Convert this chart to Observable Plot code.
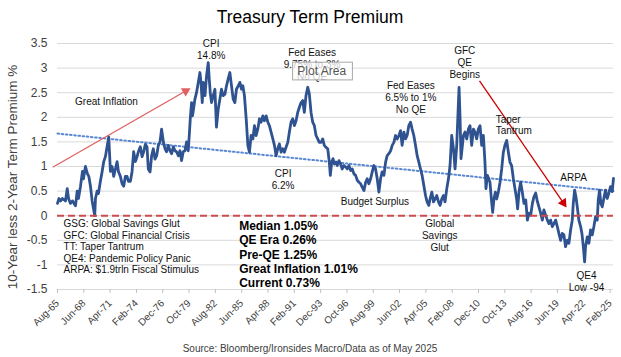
<!DOCTYPE html>
<html><head><meta charset="utf-8">
<script src="https://cdn.jsdelivr.net/npm/d3@7"></script>
<script src="https://cdn.jsdelivr.net/npm/@observablehq/plot@0.6"></script>
<style>body{margin:0;background:#fff;} #chart svg{display:block;}</style>
</head><body><div id="chart"></div>
<script>
// ---- data ----
const years = [
1965.58,1965.74,1965.91,1966.12,1966.44,1966.63,1966.77,1966.98,1967.20,1967.52,1967.70,1967.84,1968.06,1968.27,1968.38,1968.59,1968.81,1968.95,1969.13,1969.31,1969.45,1969.59,1969.67,1969.85,1969.99,
1970.20,1970.39,1970.56,1970.74,1970.92,1971.10,1971.28,1971.46,1971.63,1971.82,1972.00,1972.14,1972.35,1972.54,1972.71,1972.89,1973.07,1973.21,1973.43,1973.61,1973.78,1973.97,1974.15,1974.29,1974.50,1974.69,1974.86,1975.04,1975.22,
1975.36,1975.55,1975.72,1975.90,1976.08,1976.26,1976.44,1976.62,1976.79,1976.98,1977.16,1977.33,1977.51,1977.70,1977.87,1978.05,1978.23,1978.40,1978.59,1978.77,1978.94,1979.12,1979.31,1979.48,1979.66,1979.77,1979.88,
1980.02,1980.12,1980.23,1980.38,1980.55,1980.74,1980.92,1981.03,1981.17,1981.27,1981.46,1981.63,1981.81,1981.92,1982.03,1982.17,1982.35,1982.53,1982.70,1982.89,1983.07,1983.24,1983.42,1983.61,1983.78,1983.96,1984.14,1984.32,1984.50,1984.68,1984.85,1985.04,1985.22,1985.39,
1985.54,1985.71,1985.90,1986.08,1986.25,1986.43,1986.62,1986.79,1986.97,1987.15,1987.33,1987.51,1987.69,1987.86,1988.05,1988.23,1988.40,1988.58,1988.77,1988.94,1989.12,1989.30,1989.47,1989.66,1989.84,
1990.01,1990.19,1990.38,1990.55,1990.73,1990.91,1991.09,1991.27,1991.45,1991.62,1991.81,1991.99,1992.16,1992.34,1992.53,1992.70,1992.88,1993.06,1993.24,1993.42,1993.60,1993.77,1993.96,1994.14,1994.31,1994.49,1994.68,1994.85,1994.96,1995.11,1995.25,1995.39,1995.57,
1995.71,1995.89,1996.07,1996.24,1996.43,1996.61,1996.78,1996.96,1997.15,1997.32,1997.50,1997.68,1997.86,1998.04,1998.22,1998.39,1998.58,1998.76,1998.93,1999.11,1999.30,1999.47,1999.65,1999.83,
2000.01,2000.19,2000.37,2000.54,2000.73,2000.91,2001.08,2001.26,2001.45,2001.62,2001.80,2001.98,2002.16,2002.34,2002.52,2002.69,2002.88,2003.06,2003.23,2003.41,2003.60,2003.77,2003.95,2004.13,2004.31,2004.49,2004.67,2004.84,2005.03,2005.21,2005.38,2005.56,
2005.70,2005.89,2006.07,2006.24,2006.42,2006.61,2006.78,2006.96,2007.14,2007.31,2007.50,2007.68,2007.85,2008.03,2008.22,2008.39,2008.57,2008.71,2008.82,2008.93,2009.03,2009.18,2009.29,2009.46,2009.65,2009.83,
2010.00,2010.18,2010.37,2010.54,2010.72,2010.90,2011.08,2011.26,2011.44,2011.61,2011.72,2011.87,2012.01,2012.15,2012.30,2012.44,2012.58,2012.73,2012.87,2013.05,2013.23,2013.41,2013.59,2013.76,2013.95,2014.13,2014.30,2014.48,2014.67,2014.84,2015.02,2015.13,2015.27,2015.45,2015.63,
2015.81,2016.00,2016.18,2016.35,2016.53,2016.72,2016.89,2017.07,2017.25,2017.42,2017.61,2017.79,2017.96,2018.14,2018.33,2018.50,2018.68,2018.86,2019.04,2019.22,2019.40,2019.57,2019.76,2019.94,
2020.11,2020.29,2020.48,2020.65,2020.83,2021.01,2021.12,2021.26,2021.40,2021.55,2021.72,2021.91,2022.05,2022.20,2022.34,2022.44,2022.63,2022.80,2022.98,2023.16,2023.34,2023.52,2023.70,2023.81,2023.95,2024.09,2024.24,2024.41,2024.59,2024.78,2024.95,2025.13,2025.31,2025.45
];
const values = [
0.25,0.35,0.3,0.35,0.3,0.55,0.35,0.25,0.3,0.2,0.5,0.35,0.6,0.9,0.75,1.0,0.85,0.8,0.6,0.3,0.15,0.0,0.35,0.5,0.45,
0.7,0.9,1.1,1.2,1.4,1.6,0.9,1.0,0.8,0.95,1.1,0.9,0.8,0.65,0.6,0.8,0.8,0.7,0.7,0.9,1.3,1.1,1.2,1.3,1.4,1.2,1.3,1.45,1.4,
0.95,0.89,1.22,1.36,1.15,1.22,1.43,1.5,1.76,1.5,1.36,1.3,1.43,1.32,1.26,1.4,1.32,1.3,1.22,1.32,1.12,1.3,1.32,1.5,1.32,1.63,1.97,
2.3,2.03,2.17,2.37,2.5,2.71,2.91,2.71,2.3,2.71,2.44,2.84,3.11,2.78,2.5,2.3,2.44,2.57,1.8,2.17,2.37,2.57,2.44,2.47,2.64,2.78,2.91,2.64,2.37,2.3,2.57,2.64,2.71,2.57,
2.64,2.44,1.97,1.43,1.29,1.63,1.56,1.83,1.63,1.76,1.97,1.9,2.03,1.93,2.03,1.9,1.83,1.7,1.56,1.43,1.22,1.36,1.46,1.29,1.36,
1.29,1.39,1.49,1.7,1.9,1.97,1.83,1.93,2.1,2.2,2.3,2.34,2.1,2.44,2.61,2.47,2.1,1.9,1.83,1.63,1.56,1.49,1.49,1.56,1.43,1.39,1.36,1.09,0.82,1.09,1.16,1.05,1.09,
1.02,1.12,1.05,0.95,1.02,0.99,0.95,1.02,0.92,0.95,0.85,0.82,0.72,0.68,0.65,0.58,0.51,0.68,0.75,0.65,0.75,0.89,1.02,0.95,
0.75,0.48,0.75,0.89,0.82,1.09,1.22,1.26,1.32,1.43,1.49,1.63,1.56,1.63,1.73,1.43,1.7,1.56,1.63,1.83,1.9,1.76,1.63,1.43,1.22,1.09,0.95,0.82,0.61,0.41,0.28,0.21,
0.34,0.48,0.28,0.34,0.41,0.28,0.21,0.34,0.41,0.28,0.55,0.75,1.02,1.63,1.36,0.95,1.43,2.1,2.61,1.97,1.16,1.43,1.63,1.7,1.56,1.76,
1.83,1.43,1.76,1.7,1.56,1.76,1.83,1.43,1.63,1.09,0.55,0.82,0.75,0.68,0.34,0.07,0.34,0.48,0.34,0.48,0.68,0.95,1.29,1.43,1.53,1.29,1.09,1.02,0.75,0.55,0.34,0.14,0.48,0.68,0.48,
0.25,0.32,-0.09,0.05,0.01,0.25,0.39,0.46,0.29,0.18,0.05,-0.09,0.12,0.01,-0.09,-0.16,-0.09,-0.22,-0.16,-0.09,-0.22,-0.36,-0.5,-0.36,
-0.39,-0.63,-0.5,-0.56,-0.29,-0.09,0.25,0.52,0.39,0.18,-0.09,-0.22,-0.36,-0.63,-0.94,-0.63,-0.43,-0.56,-0.29,-0.39,-0.22,-0.02,-0.09,0.32,0.52,0.25,0.18,0.35,0.52,0.35,0.46,0.59,0.49,0.76
];
const tickMonths = ["1965-08","1968-06","1971-04","1974-02","1976-12","1979-10","1982-08","1985-06","1988-04","1991-02","1993-12","1996-10","1999-08","2002-06","2005-04","2008-02","2010-12","2013-10","2016-08","2019-06","2022-04","2025-02"];
const yTicks = [-1.5,-1,-0.5,0,0.5,1,1.5,2,2.5,3,3.5];
const trendYears = [1965.58, 2025.45];
const trendValues = [1.67, 0.50];
const arrowFromYear = [1965.58, 2011.36];
const arrowFromValue = [1.04, 2.65];
const arrowToYear = [1979.9, 2020.39];
const arrowToValue = [2.59, 0.17];
const arrowColors = ["#e06060", "#cc0000"];
const noteTexts = ["CPI\n14.8%","Fed Eases\n9.75% to 3%\nNo QE","Great Inflation","CPI\n6.2%","Budget Surplus","Fed Eases\n6.5% to 1%\nNo QE","GFC\nQE\nBegins","ARPA","Global\nSavings\nGlut","QE4\nLow -94"];
const noteYears = [1982.13,1992.99,1970.85,1989.87,1999.76,2003.63,2009.43,2021.15,2006.74,2022.54];
const noteValues = [3.38,3.09,2.32,0.74,0.29,2.40,3.13,0.78,-0.40,-1.33];
const leftNoteTexts = ["Taper\nTantrum","GSG: Global Savings Glut\nGFC: Global Financial Crisis\nTT: Taper Tantrum\nQE4: Pandemic Policy Panic\nARPA: $1.9trln Fiscal Stimulus"];
const leftNoteYears = [2012.76, 1966.23];
const leftNoteValues = [1.85, -0.626];
const statsText = ["Median 1.05%\nQE Era 0.26%\nPre-QE 1.25%\nGreat Inflation 1.01%\nCurrent 0.73%"];
const statsYear = [1985.14];
const statsValue = [-0.78];
const tipText = ["Plot Area"];
const tipYears = [1990.95, 1997.39, 1994.03];
const tipValues = [3.11, 2.75, 2.94];
const titleText = "Treasury Term Premium";
const yLabel = "10-Year less 2-Year Term Premium %";
const sourceText = "Source: Bloomberg/Ironsides Macro/Data as of May 2025";

// ---- helpers ----
function yd(y){const yr=Math.floor(y);const s=Date.UTC(yr,0,1),e=Date.UTC(yr+1,0,1);return new Date(s+(y-yr)*(e-s));}
const series = years.map((y,i)=>({date: yd(y), value: values[i]}));
const trend = trendYears.map((y,i)=>({date: yd(y), value: trendValues[i]}));
const arrows = arrowFromYear.map((y,i)=>({x1: yd(y), y1: arrowFromValue[i], x2: yd(arrowToYear[i]), y2: arrowToValue[i], c: arrowColors[i]}));
const notes = noteTexts.map((t,i)=>({t, x: yd(noteYears[i]), y: noteValues[i]}));
const leftNotes = leftNoteTexts.map((t,i)=>({t, x: yd(leftNoteYears[i]), y: leftNoteValues[i]}));
const stats = statsText.map((t,i)=>({t, x: yd(statsYear[i]), y: statsValue[i]}));
const tickDates = tickMonths.map(d3.utcParse("%Y-%m"));
const font = "'Liberation Sans', Arial, Helvetica, sans-serif";

function build(extra){
  return Plot.plot({
    width: 621, height: 357,
    marginLeft: 57, marginRight: 8, marginTop: 43, marginBottom: 68,
    style: {fontFamily: font, background: "#fff", overflow: "visible"},
    x: {type: "utc", domain: [d3.utcParse("%Y-%m")("1965-08"), yd(2025.45)]},
    y: {domain: [-1.5, 3.5]},
    marks: [
      Plot.gridY(yTicks, {stroke: "#d9d9d9", strokeOpacity: 1, strokeWidth: 1}),
      Plot.axisY(yTicks, {tickSize: 0, tickPadding: 10, tickFormat: d => String(d), fontSize: 12, fill: "#404040", label: null}),
      Plot.axisX(tickDates, {tickRotate: -45, tickFormat: d3.utcFormat("%b-%y"), tickSize: 4, stroke: "#bfbfbf", fill: "#404040", fontSize: 10, tickPadding: 8, label: null}),
      Plot.line(trend, {x: "date", y: "value", stroke: "#5a88d2", strokeWidth: 2, strokeDasharray: "1.6,2.6"}),
      Plot.line(series, {x: "date", y: "value", stroke: "#2f5290", strokeWidth: 2.8, strokeLinejoin: "round"}),
      Plot.ruleY([0], {stroke: "#cc4b4b", strokeWidth: 2, strokeDasharray: "7,4"}),
      ...extra,
      Plot.text(notes, {x: "x", y: "y", text: "t", fontSize: 10, lineHeight: 1.2, fill: "#111", textAnchor: "middle"}),
      Plot.text(leftNotes, {x: "x", y: "y", text: "t", fontSize: 10, lineHeight: 1.15, fill: "#111", textAnchor: "start"}),
      Plot.text(stats, {x: "x", y: "y", text: "t", fontSize: 12, fontWeight: "bold", lineHeight: 1.18, fill: "#000", textAnchor: "start"}),
      Plot.rect([0], {x1: () => yd(tipYears[0]), x2: () => yd(tipYears[1]), y1: () => tipValues[0], y2: () => tipValues[1], fill: "#fff", fillOpacity: 0.75, stroke: "#a8a8a8", strokeWidth: 1}),
      Plot.text(tipText, {x: () => yd(tipYears[2]), y: () => tipValues[2], text: d => d, fontSize: 12, fill: "#555"})
    ]
  });
}

// first pass: get scales for arrowhead orientation
const probe = build([]);
const sx = probe.scale("x"), sy = probe.scale("y");
const arrowMarks = arrows.flatMap(a => {
  const dxp = sx.apply(a.x2) - sx.apply(a.x1), dyp = sy.apply(a.y2) - sy.apply(a.y1);
  const len = Math.hypot(dxp, dyp), ux = dxp/len, uy = dyp/len;
  const ang = Math.atan2(dyp, dxp) * 180 / Math.PI + 90;
  const back = 5.5;
  return [
    Plot.link([a], {x1: "x1", y1: "y1", x2: "x2", y2: "y2", stroke: a.c, strokeWidth: 1.3, dx: -ux*back, dy: -uy*back}),
    Plot.dot([a], {x: "x2", y: "y2", symbol: "triangle", r: 3.6, fill: a.c, stroke: "none", rotate: ang, dx: -ux*back, dy: -uy*back})
  ];
});
const chart = build(arrowMarks);

const svg = d3.select(chart);
svg.append("text").attr("x", 310).attr("y", 23).attr("text-anchor", "middle")
  .attr("font-family", font).attr("font-size", 17.5).attr("fill", "#000").text(titleText);
svg.append("text").attr("transform", "translate(17,177) rotate(-90)").attr("text-anchor", "middle")
  .attr("font-family", font).attr("font-size", 13.5).attr("fill", "#404040").text(yLabel);
svg.append("text").attr("x", 310).attr("y", 352).attr("text-anchor", "middle")
  .attr("font-family", font).attr("font-size", 10).attr("fill", "#404040").text(sourceText);
document.getElementById("chart").appendChild(chart);
</script>
</body></html>
